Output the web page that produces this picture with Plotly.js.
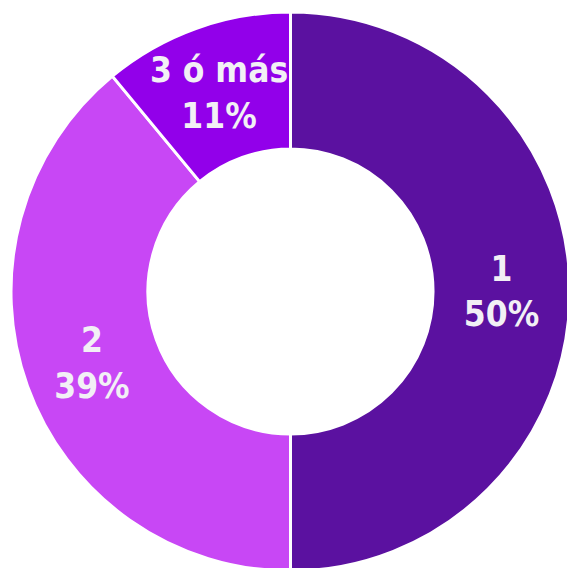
<!DOCTYPE html>
<html>
<head>
<meta charset="utf-8">
<script src="https://cdn.plot.ly/plotly-3.0.1.min.js"></script>
<style>
html,body{margin:0;padding:0;overflow:hidden;background:#fff;}
#chart{width:570px;height:571px;}
</style>
</head>
<body>
<div id="chart"></div>
<script>
const categories = ["1", "2", "3 ó más"];
const values = [50, 39, 11];
const colors = ["#5b11a0", "#c847f5", "#9200ea"];

const trace = {
  type: "pie",
  labels: categories,
  values: values,
  hole: 0.51,
  sort: false,
  direction: "clockwise",
  rotation: 0,
  marker: {colors: colors, line: {color: "#ffffff", width: 3}},
  textinfo: "label+percent",
  texttemplate: "%{label}<br>%{percent:.0%}",
  textposition: "inside",
  insidetextorientation: "horizontal",
  textfont: {family: "DejaVu Sans Condensed", size: 35, color: "#f2f0f5", weight: "bold"},
  hoverinfo: "none",
  showlegend: false
};

const layout = {
  width: 570,
  height: 571,
  margin: {l: 11, r: 0, t: 12, b: 0, pad: 0},
  paper_bgcolor: "#ffffff",
  showlegend: false,
  uniformtext: {mode: "show", minsize: 35}
};

Plotly.newPlot("chart", [trace], layout, {displayModeBar: false, staticPlot: true});
</script>
</body>
</html>
